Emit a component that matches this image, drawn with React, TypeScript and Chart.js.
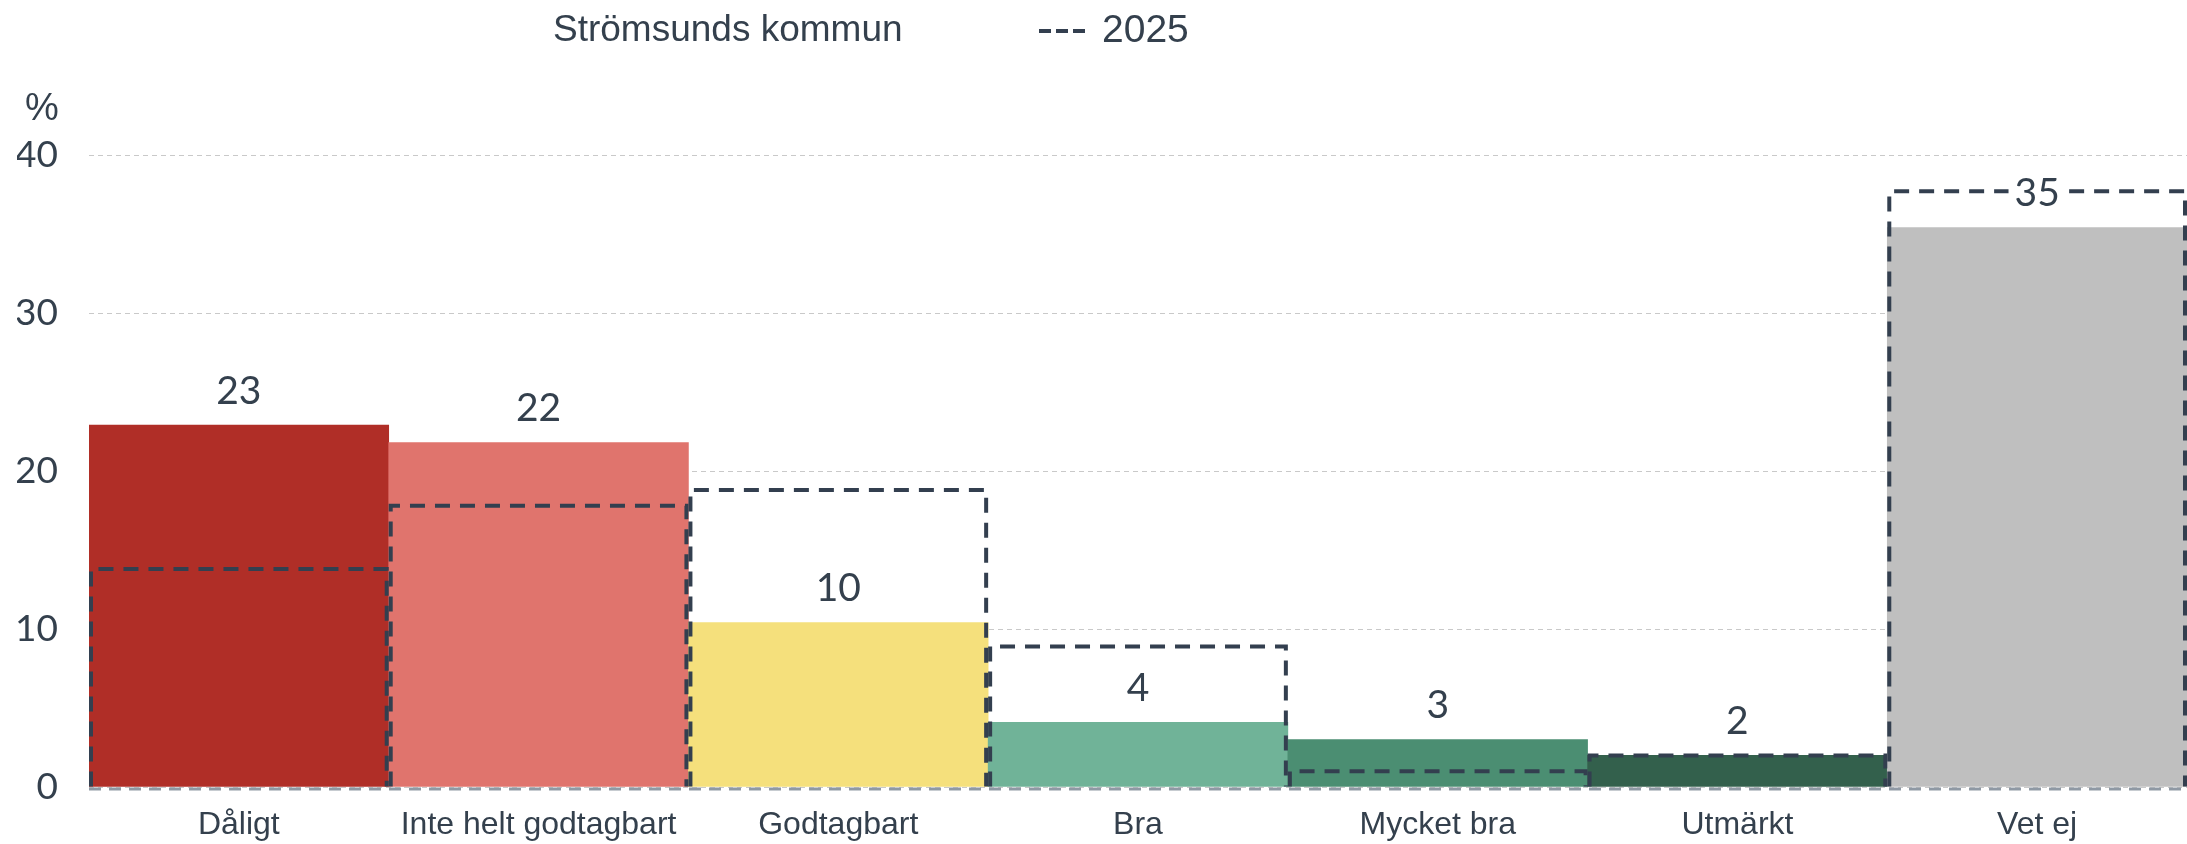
import React, { useEffect, useRef } from 'react';
import { Chart, registerables } from 'chart.js';

Chart.register(...registerables);

const categories = ['Dåligt', 'Inte helt godtagbart', 'Godtagbart', 'Bra', 'Mycket bra', 'Utmärkt', 'Vet ej'];
const kommunValues = [22.9, 21.8, 10.4, 4.1, 3.0, 2.0, 35.4];
const values2025 = [13.8, 17.8, 18.8, 8.9, 1.0, 2.0, 37.7];
const barColors = ['#b02e27', '#e0746d', '#f5e07c', '#70b398', '#4b8e72', '#33604c', '#bfbfbf'];
const yTickValues = [0, 10, 20, 30, 40];
const seriesNames = ['Strömsunds kommun', '2025'];
const unitLabel = '%';

const TEXT = '#34404d';
const DASH = '#333f4f';
const SANS = '"Liberation Sans", Arial, sans-serif';
const NUM = 'Lato, "Liberation Sans", sans-serif';

const outlinePlugin = {
  id: 'outline2025',
  afterDatasetsDraw(chart: any) {
    const { ctx } = chart;
    const yScale = chart.scales.y;
    const y0 = yScale.getPixelForValue(0);
    // baseline
    ctx.save();
    ctx.strokeStyle = '#8f99a4';
    ctx.lineWidth = 3;
    ctx.setLineDash([12, 8]);
    ctx.beginPath();
    ctx.moveTo(chart.chartArea.left, y0 + 2);
    ctx.lineTo(chart.chartArea.right, y0 + 2);
    ctx.stroke();
    ctx.restore();

    const meta = chart.getDatasetMeta(1);
    ctx.save();
    ctx.strokeStyle = DASH;
    ctx.lineWidth = 4;
    ctx.setLineDash([15, 10]);
    meta.data.forEach((el: any) => {
      const { x, y, base, width } = el.getProps(['x', 'y', 'base', 'width'], true);
      const l = x - width / 2 + 2;
      const r = x + width / 2 - 2;
      ctx.beginPath();
      ctx.moveTo(l, base);
      ctx.lineTo(l, y);
      ctx.lineTo(r, y);
      ctx.lineTo(r, base);
      ctx.stroke();
    });
    ctx.restore();
  },
};

const labelsPlugin = {
  id: 'valueLabels',
  afterDraw(chart: any) {
    const { ctx } = chart;
    const meta = chart.getDatasetMeta(0);
    ctx.save();
    ctx.font = `39px ${NUM}`;
    ctx.textAlign = 'center';
    ctx.textBaseline = 'middle';
    meta.data.forEach((el: any, i: number) => {
      const { x, y } = el.getProps(['x', 'y'], true);
      const txt = String(Math.round(kommunValues[i]));
      const w = ctx.measureText(txt).width;
      const cy = y - 34;
      ctx.fillStyle = '#ffffff';
      ctx.fillRect(x - w / 2 - 6, cy - 17, w + 12, 34);
      ctx.fillStyle = TEXT;
      ctx.fillText(txt, x, cy);
    });

    // legend
    ctx.font = `37px ${SANS}`;
    ctx.textAlign = 'left';
    ctx.textBaseline = 'middle';
    ctx.fillStyle = TEXT;
    ctx.fillText(seriesNames[0], 553, 31);
    ctx.strokeStyle = DASH;
    ctx.lineWidth = 4;
    ctx.setLineDash([12, 5]);
    ctx.beginPath();
    ctx.moveTo(1039, 31);
    ctx.lineTo(1085, 31);
    ctx.stroke();
    ctx.setLineDash([]);
    ctx.font = `39px ${SANS}`;
    ctx.fillText(seriesNames[1], 1102, 31);

    // unit
    ctx.font = `38px ${SANS}`;
    ctx.fillText(unitLabel, 25, 110);
    ctx.restore();
  },
};

export default function App() {
  const canvasRef = useRef<HTMLCanvasElement | null>(null);

  useEffect(() => {
    document.body.style.margin = '0';
    const canvas = canvasRef.current;
    if (!canvas) return;
    const chart = new Chart(canvas, {
      type: 'bar',
      data: {
        labels: categories,
        datasets: [
          {
            label: seriesNames[0],
            data: kommunValues,
            backgroundColor: barColors,
            borderWidth: 0,
            grouped: false,
            barPercentage: 1,
            categoryPercentage: 1,
            order: 2,
          },
          {
            label: seriesNames[1],
            data: values2025,
            backgroundColor: 'rgba(0,0,0,0)',
            borderWidth: 0,
            grouped: false,
            barPercentage: 1,
            categoryPercentage: 1,
            order: 1,
          },
        ],
      },
      options: {
        animation: false,
        responsive: true,
        maintainAspectRatio: false,
        layout: { padding: { top: 155, left: 17, right: 0, bottom: 0 } },
        plugins: {
          legend: { display: false },
          tooltip: { enabled: false },
        },
        scales: {
          x: {
            afterFit(scale: any) {
              scale.height = 57;
            },
            grid: { display: false, drawTicks: false },
            border: { display: false },
            ticks: {
              color: TEXT,
              font: { family: SANS, size: 32 },
              padding: 19,
              maxRotation: 0,
              autoSkip: false,
            },
          },
          y: {
            min: 0,
            max: 40,
            afterFit(scale: any) {
              scale.width = 72;
            },
            grid: { color: '#c9c9c9', lineWidth: 1, drawTicks: false },
            border: { display: false, dash: [5, 4] },
            ticks: {
              stepSize: 10,
              color: TEXT,
              font: { family: NUM, size: 37 },
              padding: 31,
              callback: (v: any) => (yTickValues.includes(Number(v)) ? String(v) : ''),
            },
          },
        },
      },
      plugins: [outlinePlugin, labelsPlugin],
    });
    return () => chart.destroy();
  }, []);

  return (
    <div style={{ width: '2187px', height: '844px', position: 'relative' }}>
      <canvas ref={canvasRef} />
    </div>
  );
}
